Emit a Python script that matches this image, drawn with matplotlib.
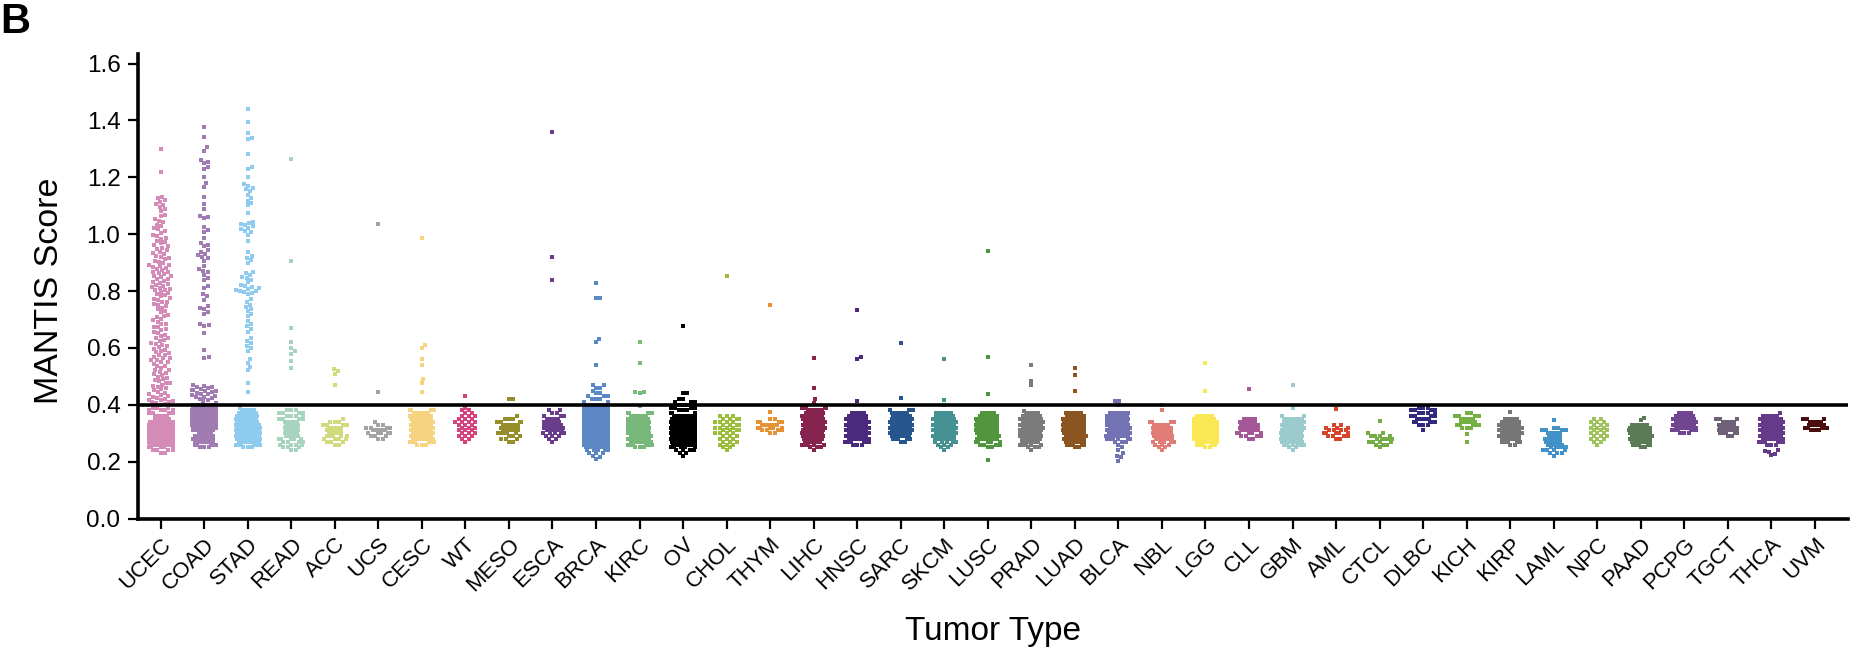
import numpy as np
import matplotlib
matplotlib.use('Agg')
import matplotlib.pyplot as plt

# ---------------- data ----------------
cats = ['UCEC', 'COAD', 'STAD', 'READ', 'ACC', 'UCS', 'CESC', 'WT', 'MESO', 'ESCA',
        'BRCA', 'KIRC', 'OV', 'CHOL', 'THYM', 'LIHC', 'HNSC', 'SARC', 'SKCM', 'LUSC',
        'PRAD', 'LUAD', 'BLCA', 'NBL', 'LGG', 'CLL', 'GBM', 'AML', 'CTCL', 'DLBC',
        'KICH', 'KIRP', 'LAML', 'NPC', 'PAAD', 'PCPG', 'TGCT', 'THCA', 'UVM']

colors = ['#d48bb8', '#a07cb3', '#8ecbee', '#a7d3bf', '#d1da7c', '#a3a3a3', '#f5d381',
          '#d7437e', '#968e2b', '#6a3d8c', '#5b87c4', '#78b87a', '#000000', '#9dbd3c',
          '#e69232', '#87234f', '#4b2a7d', '#27558e', '#469292', '#51953e', '#7b7b7b',
          '#8a5520', '#7373b3', '#e07d76', '#f9e853', '#a55897', '#9ccbcd', '#d8442a',
          '#74ad44', '#33297f', '#74b043', '#767676', '#4292c9', '#9fc25c', '#5b7a56',
          '#714590', '#6e6176', '#643a89', '#4a0d0d']

# histogram of the dense part of each swarm, in 0.01 steps from core_lo
core_lo = [0.23, 0.25, 0.25, 0.24, 0.26, 0.28, 0.26, 0.27, 0.27, 0.27,
           0.22, 0.25, 0.22, 0.24, 0.30, 0.24, 0.26, 0.27, 0.24, 0.25,
           0.24, 0.25, 0.27, 0.24, 0.25, 0.28, 0.25, 0.28, 0.25, 0.33,
           0.32, 0.26, 0.22, 0.26, 0.25, 0.30, 0.29, 0.26, 0.31]

core_counts = [
    [2, 4, 7, 9, 10, 10, 10, 10, 10, 10, 10, 9, 6, 5, 4, 4, 3],   # UCEC
    [3, 5, 7, 8, 7, 5, 8, 9, 10, 10, 10, 10, 10, 10, 9, 8],      # COAD
    [3, 6, 8, 9, 9, 9, 9, 9, 9, 8, 8, 8, 7, 5],                   # STAD
    [2, 3, 4, 4, 5, 5, 5, 5, 5, 5, 5, 4, 4, 4, 3],                # READ
    [2, 3, 4, 5, 5, 6, 5, 4, 3, 1],                               # ACC
    [2, 3, 5, 5, 4, 2, 1],                                        # UCS
    [3, 6, 8, 8, 8, 8, 8, 8, 8, 8, 8, 6, 4],                      # CESC
    [1, 2, 3, 3, 3, 3, 3, 4, 3, 3, 2, 2, 1],                      # WT
    [2, 3, 3, 5, 6, 7, 6, 4, 3, 1],                               # MESO
    [1, 2, 3, 5, 6, 7, 7, 6, 5, 3, 2, 2],                         # ESCA
    [1, 3, 5, 8, 10, 10, 10, 10, 10, 10, 10, 10, 10, 10, 10, 10, 10, 10, 9,
     4, 3, 3, 2, 1, 2, 2],                                        # BRCA
    [3, 6, 8, 8, 8, 8, 8, 8, 8, 8, 8, 6, 4],                      # KIRC
    [1, 2, 4, 6, 8, 9, 9, 9, 9, 9, 9, 9, 9, 9, 8, 4, 3, 4, 3, 3, 2, 0, 2],  # OV
    [1, 2, 3, 3, 3, 3, 4, 4, 4, 4, 4, 4, 3],                      # CHOL
    [2, 4, 5, 6, 4, 2],                                           # THYM
    [1, 3, 5, 6, 7, 8, 8, 8, 8, 8, 8, 8, 8, 7, 6, 4],             # LIHC
    [3, 6, 8, 8, 8, 8, 8, 8, 8, 8, 7, 5],                         # HNSC
    [2, 5, 7, 8, 8, 8, 8, 8, 8, 7, 6, 3],                         # SARC
    [1, 2, 3, 5, 7, 8, 8, 8, 8, 8, 8, 8, 7, 6],                   # SKCM
    [2, 4, 7, 8, 8, 8, 8, 8, 8, 8, 8, 7, 5],                      # LUSC
    [1, 3, 5, 6, 7, 8, 8, 8, 8, 8, 8, 8, 7, 5],                   # PRAD
    [2, 5, 7, 8, 8, 8, 8, 8, 8, 8, 8, 7, 6],                      # LUAD
    [3, 6, 8, 8, 8, 8, 8, 8, 8, 8, 7],                            # BLCA
    [1, 2, 3, 5, 6, 7, 7, 7, 7, 6, 4],                            # NBL
    [2, 5, 8, 9, 9, 9, 9, 9, 9, 9, 8, 6],                         # LGG
    [2, 4, 6, 7, 7, 7, 6, 5],                                     # CLL
    [2, 6, 8, 8, 8, 8, 8, 8, 8, 8, 7, 2],                         # GBM
    [2, 4, 5, 4, 3],                                              # AML
    [1, 3, 4, 5, 4, 2],                                           # CTCL
    [3, 5, 5, 4, 4, 4, 3],                                        # DLBC
    [3, 5, 6, 5, 4, 2],                                           # KICH
    [2, 5, 7, 8, 8, 8, 8, 8, 7, 5],                               # KIRP
    [1, 3, 4, 5, 6, 6, 6, 5, 5, 4, 2],                            # LAML
    [1, 2, 3, 3, 3, 3, 3, 3, 3, 2],                               # NPC
    [2, 5, 7, 8, 8, 8, 8, 8, 6],                                  # PAAD
    [3, 6, 8, 8, 8, 8, 7, 5],                                     # PCPG
    [2, 5, 7, 7, 6, 5, 3],                                        # TGCT
    [3, 6, 8, 8, 8, 8, 8, 8, 8, 8, 6],                            # THCA
    [3, 5, 6, 5, 3],                                              # UVM
]

# individually read scores (sparse tails and outliers)
extras = [
    [0.401, 0.404, 0.405, 0.409, 0.411, 0.413, 0.417, 0.418, 0.422, 0.425, 0.427,
     0.432, 0.434, 0.438, 0.441, 0.446, 0.451, 0.455, 0.458, 0.464, 0.466, 0.471,
     0.475, 0.477, 0.483, 0.486, 0.489, 0.495, 0.498, 0.504, 0.507, 0.513, 0.517,
     0.522, 0.524, 0.531, 0.536, 0.538, 0.545, 0.549, 0.551, 0.556, 0.558, 0.563,
     0.565, 0.569, 0.574, 0.576, 0.582, 0.584, 0.589, 0.594, 0.597, 0.603, 0.607,
     0.612, 0.614, 0.618, 0.625, 0.627, 0.634, 0.636, 0.641, 0.647, 0.653, 0.655,
     0.662, 0.665, 0.672, 0.675, 0.683, 0.685, 0.692, 0.697, 0.703, 0.708, 0.714,
     0.717, 0.725, 0.731, 0.736, 0.742, 0.748, 0.752, 0.754, 0.761, 0.763, 0.768,
     0.772, 0.774, 0.781, 0.785, 0.788, 0.794, 0.797, 0.802, 0.803, 0.808, 0.812,
     0.813, 0.819, 0.822, 0.824, 0.829, 0.833, 0.835, 0.841, 0.844, 0.849, 0.852,
     0.853, 0.859, 0.862, 0.866, 0.867, 0.873, 0.876, 0.881, 0.883, 0.887, 0.891,
     0.892, 0.898, 0.903, 0.905, 0.912, 0.916, 0.921, 0.922, 0.931, 0.934, 0.939,
     0.943, 0.948, 0.953, 0.958, 0.961, 0.968, 0.973, 0.976, 0.984, 0.988, 0.993,
     0.997, 1.004, 1.011, 1.017, 1.021, 1.029, 1.033, 1.042, 1.047, 1.055, 1.064,
     1.069, 1.081, 1.088, 1.096, 1.103, 1.107, 1.114, 1.119, 1.126, 1.131,
     1.22, 1.30],                                                               # UCEC
    [0.405, 0.412, 0.418, 0.421, 0.424, 0.426, 0.429, 0.431, 0.434, 0.437, 0.439,
     0.442, 0.444, 0.447, 0.449, 0.451, 0.453, 0.455, 0.458, 0.461, 0.463, 0.466,
     0.469, 0.566, 0.568, 0.593, 0.654, 0.678, 0.681, 0.684, 0.718, 0.727, 0.736,
     0.741, 0.746, 0.769, 0.781, 0.788, 0.812, 0.817, 0.838, 0.846, 0.857, 0.866,
     0.872, 0.879, 0.889, 0.907, 0.916, 0.921, 0.927, 0.932, 0.938, 0.944, 0.957,
     0.963, 0.969, 0.988, 1.008, 1.013, 1.024, 1.057, 1.061, 1.064, 1.09, 1.106,
     1.132, 1.167, 1.181, 1.20, 1.228, 1.235, 1.251, 1.255, 1.261, 1.293, 1.305,
     1.34, 1.376],                                                              # COAD
    [0.39, 0.446, 0.475, 0.521, 0.533, 0.548, 0.561, 0.588, 0.598, 0.607, 0.618,
     0.626, 0.634, 0.657, 0.668, 0.677, 0.684, 0.693, 0.712, 0.721, 0.729, 0.737,
     0.744, 0.752, 0.763, 0.771, 0.788, 0.794, 0.797, 0.799, 0.801, 0.803, 0.806,
     0.809, 0.813, 0.818, 0.822, 0.831, 0.839, 0.846, 0.851, 0.857, 0.862, 0.868,
     0.897, 0.908, 0.917, 0.923, 0.937, 0.977, 0.998, 1.006, 1.011, 1.017, 1.022,
     1.027, 1.031, 1.036, 1.039, 1.043, 1.076, 1.101, 1.109, 1.118, 1.127, 1.138,
     1.152, 1.158, 1.163, 1.171, 1.178, 1.202, 1.228, 1.235, 1.282, 1.335, 1.338,
     1.357, 1.396, 1.439],                                                      # STAD
    [0.53, 0.555, 0.58, 0.59, 0.60, 0.62, 0.67, 0.905, 1.265],               # READ
    [0.47, 0.51, 0.52, 0.525],                                                # ACC
    [0.445, 1.035],                                                           # UCS
    [0.445, 0.475, 0.49, 0.54, 0.56, 0.60, 0.61, 0.985],                      # CESC
    [0.43],                                                                   # WT
    [0.42, 0.42],                                                             # MESO
    [0.84, 0.92, 1.36],                                                       # ESCA
    [0.21, 0.218, 0.54, 0.62, 0.63, 0.775, 0.775, 0.83],                      # BRCA
    [0.397, 0.44, 0.446, 0.446, 0.546, 0.622],                                # KIRC
    [0.678],                                                                  # OV
    [0.853],                                                                  # CHOL
    [0.373, 0.75],                                                            # THYM
    [0.405, 0.42, 0.46, 0.565],                                               # LIHC
    [0.415, 0.562, 0.568, 0.735],                                             # HNSC
    [0.423, 0.618],                                                           # SARC
    [0.40, 0.417, 0.562],                                                     # SKCM
    [0.207, 0.438, 0.568, 0.942],                                             # LUSC
    [0.379, 0.468, 0.485, 0.54],                                              # PRAD
    [0.448, 0.505, 0.53],                                                     # LUAD
    [0.203, 0.215, 0.221, 0.229, 0.241, 0.25, 0.26, 0.398, 0.413, 0.413],     # BLCA
    [0.382, 0.40],                                                            # NBL
    [0.45, 0.548],                                                            # LGG
    [0.456],                                                                  # CLL
    [0.241, 0.388, 0.47],                                                     # GBM
    [0.33, 0.33, 0.384],                                                      # AML
    [0.342],                                                                  # CTCL
    [0.31],                                                                   # DLBC
    [0.27, 0.298],                                                            # KICH
    [0.375],                                                                  # KIRP
    [0.347],                                                                  # LAML
    [],                                                                       # NPC
    [0.345, 0.354],                                                           # PAAD
    [],                                                                       # PCPG
    [],                                                                       # TGCT
    [0.222, 0.228, 0.235, 0.236, 0.24, 0.37],                                 # THCA
    [],                                                                       # UVM
]

threshold = 0.4
y_ticks = [0.0, 0.2, 0.4, 0.6, 0.8, 1.0, 1.2, 1.4, 1.6]

# ---------------- drawing ----------------
plt.rcParams['font.family'] = ['Liberation Sans', 'DejaVu Sans']

fig = plt.figure(figsize=(18.76, 6.68), dpi=100)
ax = fig.add_axes([0.0738, 0.2237, 0.9113, 0.6961])
ax.set_xlim(-0.51, 38.76)
ax.set_ylim(0, 1.635)

MARK = 4.0        # square side, px
R_DENSE = 1.45    # swarm radius for points of dense histogram rows, px
R_SPARSE = 2.2    # swarm radius for sparse points, px
HALF_W = 12.0     # swarm half width, px


def beeswarm(ypx, rad):
    order = np.argsort(ypx, kind='stable')
    xs = np.zeros(len(ypx))
    px, py, pr = [], [], []
    for k in order:
        y, r = ypx[k], rad[k]
        if px:
            ax_ = np.asarray(px)
            ay = np.asarray(py)
            ar = np.asarray(pr) + r
            near = np.abs(ay - y) < ar
            nx, ny, nd = ax_[near], ay[near], ar[near]
        else:
            nx = ny = nd = np.empty(0)
        if len(nx) == 0:
            x = 0.0
        else:
            dx = np.sqrt(np.maximum(nd ** 2 - (ny - y) ** 2, 0))
            cands = np.concatenate([[0.0], nx + dx, nx - dx])
            cands = cands[np.argsort(np.abs(cands), kind='stable')]
            dist2 = (cands[:, None] - nx[None, :]) ** 2 + (y - ny[None, :]) ** 2
            ok = np.all(dist2 >= nd[None, :] ** 2 - 1e-6, axis=1)
            x = cands[np.argmax(ok)]
        xs[k] = x
        px.append(x)
        py.append(y)
        pr.append(r)
    return xs


for i, cat in enumerate(cats):
    counts = np.asarray(core_counts[i])
    levels = core_lo[i] + 0.01 * np.arange(len(counts))
    ex = np.asarray(extras[i], float)
    vals = np.concatenate([np.repeat(levels, counts), ex])
    rad = np.concatenate([np.where(np.repeat(counts, counts) >= 5, R_DENSE, R_SPARSE),
                          np.full(len(ex), R_SPARSE)])
    pts = ax.transData.transform(np.column_stack([np.full(len(vals), float(i)), vals]))
    offs = np.clip(beeswarm(pts[:, 1], rad), -HALF_W, HALF_W)
    xd = ax.transData.inverted().transform(np.column_stack([pts[:, 0] + offs, pts[:, 1]]))[:, 0]
    ax.scatter(xd, vals, marker='s', s=(MARK * 72 / fig.dpi) ** 2, c=colors[i],
               linewidths=0, zorder=3)

ax.axhline(threshold, color='black', lw=2.6, zorder=4)

for s in ['top', 'right']:
    ax.spines[s].set_visible(False)
for s in ['left', 'bottom']:
    ax.spines[s].set_linewidth(2.6)

ax.set_yticks(y_ticks)
ax.set_yticklabels([f'{v:.1f}' for v in y_ticks])
ax.tick_params(axis='y', width=1.6, length=7, labelsize=17.5, pad=6)
ax.tick_params(axis='x', width=1.6, length=7, labelsize=16, pad=4)
ax.set_xticks(range(len(cats)))
ax.set_xticklabels(cats, rotation=45, ha='right', rotation_mode='anchor')

ax.set_ylabel('MANTIS Score', fontsize=24.5)
ax.yaxis.set_label_coords(-0.043, 0.49)
ax.set_xlabel('Tumor Type', fontsize=24)
ax.xaxis.set_label_coords(0.5, -0.209)

fig.text(0.0, 0.997, 'B', fontsize=30, fontweight='bold', va='top', ha='left')

fig.savefig('out.png', dpi=100)
